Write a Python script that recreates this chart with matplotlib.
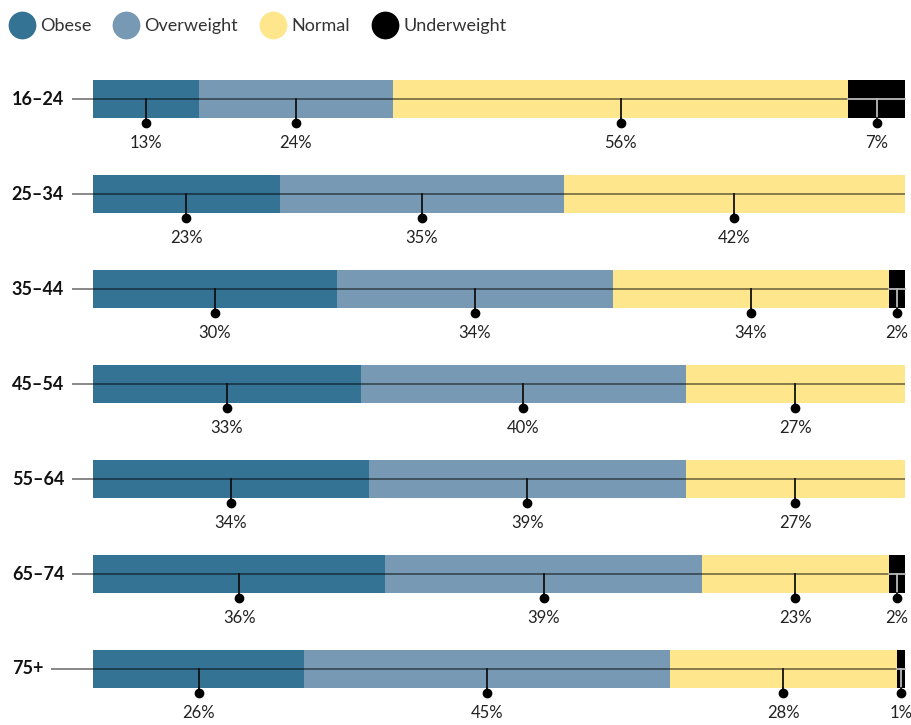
import numpy as np
import matplotlib.pyplot as plt
from matplotlib.lines import Line2D

plt.rcParams['font.family'] = ['Lato', 'DejaVu Sans']

# BMI category share by age group (%)
ages = ["16–24", "25–34", "35–44", "45–54", "55–64", "65–74", "75+"]
categories = ["Obese", "Overweight", "Normal", "Underweight"]
obese = [13, 23, 30, 33, 34, 36, 26]
overweight = [24, 35, 34, 40, 39, 39, 45]
normal = [56, 42, 34, 27, 27, 23, 28]
underweight = [7, 0, 2, 0, 0, 2, 1]
colors = ["#347393", "#7799b3", "#fde68c", "#000000"]

W, H = 911, 725
fig = plt.figure(figsize=(W / 100, H / 100), dpi=100)
ax = fig.add_axes([0, 0, 1, 1])
px_per_pct = 812 / 100
x0 = -93 / px_per_pct
ax.set_xlim(x0, x0 + W / px_per_pct)
ax.set_ylim((H - 99) / 95, -99 / 95)
ax.axis("off")

series = [obese, overweight, normal, underweight]
bar_h = 0.4
fig.canvas.draw()
renderer = fig.canvas.get_renderer()
inv = ax.transData.inverted()

for i, age in enumerate(ages):
    t = ax.text(-10.0, i, age, fontsize=13, fontweight="bold", color="#111111",
                va="center", ha="left")
    bb = t.get_window_extent(renderer)
    xstart = inv.transform((bb.x1 + 8, 0))[0]
    ax.plot([xstart, 100], [i, i], color="#000000", alpha=0.5, lw=1.3, zorder=3,
            solid_capstyle="butt")

    left = 0
    for vals, col in zip(series, colors):
        v = vals[i]
        if v == 0:
            continue
        ax.barh(i, v, left=left, height=bar_h, color=col, zorder=2)
        cx = left + v / 2
        dark = col == "#000000"
        line_col = "#bbbbbb" if dark else "#111111"
        if dark:
            ax.plot([left, left + v], [i, i], color=line_col, lw=1.3, zorder=4)
        ax.plot([cx, cx], [i, i + bar_h / 2], color=line_col, lw=1.3, zorder=4)
        ax.plot([cx, cx], [i + bar_h / 2, i + 0.25], color="#111111", lw=1.3, zorder=4)
        ax.plot(cx, i + 0.25, "o", color="#000000", ms=6, zorder=5)
        ax.text(cx, i + 0.46, f"{v}%", fontsize=12, color="#222222",
                ha="center", va="center")
        left += v

handles = [Line2D([], [], marker="o", ls="", ms=20, color=c, markeredgewidth=0)
           for c in colors]
fig.legend(handles, categories, loc="upper left", bbox_to_anchor=(-0.009, 0.997),
           ncol=4, frameon=False, fontsize=13, handletextpad=0.25, handlelength=1.5,
           columnspacing=1.2, labelcolor="#333333")

fig.savefig("out.png", dpi=100)
